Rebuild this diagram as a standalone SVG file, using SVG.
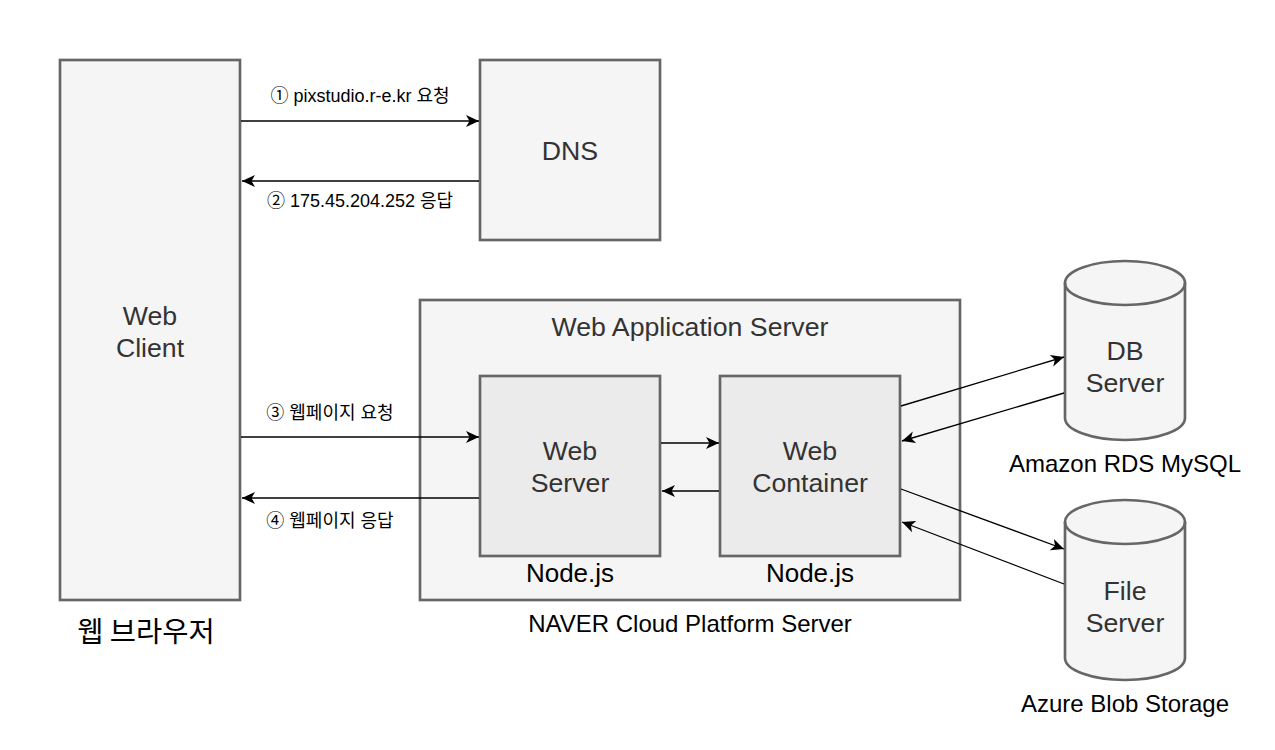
<svg xmlns="http://www.w3.org/2000/svg" width="1275" height="750" viewBox="0 0 1275 750">
<style>
  .box{fill:#f5f5f5;stroke:#666666;stroke-width:2.67}
  .inner{fill:#ebebeb;stroke:#666666;stroke-width:2.67}
  .t{font-family:"Liberation Sans","Noto Sans CJK KR",sans-serif;text-anchor:middle}
  .big{font-size:26.7px;fill:#333333}
  .mid{font-size:24px;fill:#000000}
  .sm{font-size:18px;fill:#000000}
  .kr{font-family:"Noto Sans CJK KR","Liberation Sans",sans-serif;font-size:28.5px;fill:#000000;text-anchor:middle}
  .edge{stroke:#000000;stroke-width:1.33;fill:none}
</style>
<defs>
  <marker id="ah" markerUnits="userSpaceOnUse" markerWidth="16" markerHeight="16" viewBox="-14 -8 16 16" refX="0" refY="0" orient="auto">
    <path d="M0,0 L-13,-6 L-9.5,0 L-13,6 Z" fill="#000000"/>
  </marker>
</defs>
<rect width="1275" height="750" fill="#ffffff"/>

<g id="web-client">
  <rect class="box" x="60" y="60" width="180" height="540"/>
  <text class="t big" x="150" y="325">Web</text>
  <text class="t big" x="150" y="357">Client</text>
  <text class="kr" x="146" y="642">웹 브라우저</text>
</g>

<g id="dns">
  <rect class="box" x="480" y="60" width="180" height="180"/>
  <text class="t big" x="570" y="160">DNS</text>
</g>

<g id="was">
  <rect class="box" x="420" y="300" width="540" height="300"/>
  <text class="t big" x="690" y="336">Web Application Server</text>
  <text class="t mid" x="690" y="632">NAVER Cloud Platform Server</text>
</g>

<g id="web-server">
  <rect class="inner" x="480" y="376" width="180" height="180"/>
  <text class="t big" x="570" y="460">Web</text>
  <text class="t big" x="570" y="492">Server</text>
  <text class="t mid" x="570" y="582" style="font-size:26px">Node.js</text>
</g>

<g id="web-container">
  <rect class="inner" x="720" y="376" width="180" height="180"/>
  <text class="t big" x="810" y="460">Web</text>
  <text class="t big" x="810" y="492">Container</text>
  <text class="t mid" x="810" y="582" style="font-size:26px">Node.js</text>
</g>

<g id="db-server">
  <path class="box" d="M1065,283 A60,22 0 0 1 1185,283 L1185,418 A60,22 0 0 1 1065,418 Z"/>
  <path class="box" style="fill:none" d="M1065,283 A60,22 0 0 0 1185,283"/>
  <text class="t big" x="1125" y="360">DB</text>
  <text class="t big" x="1125" y="392">Server</text>
  <text class="t mid" x="1125" y="472">Amazon RDS MySQL</text>
</g>

<g id="file-server">
  <path class="box" d="M1065,522 A60,22 0 0 1 1185,522 L1185,658 A60,22 0 0 1 1065,658 Z"/>
  <path class="box" style="fill:none" d="M1065,522 A60,22 0 0 0 1185,522"/>
  <text class="t big" x="1125" y="600">File</text>
  <text class="t big" x="1125" y="632">Server</text>
  <text class="t mid" x="1125" y="712">Azure Blob Storage</text>
</g>

<g id="connectors">
  <line class="edge" x1="241" y1="121" x2="479" y2="121" marker-end="url(#ah)"/>
  <text class="t sm" x="360" y="102">① pixstudio.r-e.kr 요청</text>
  <line class="edge" x1="479" y1="181" x2="242" y2="181" marker-end="url(#ah)"/>
  <text class="t sm" x="360" y="207">② 175.45.204.252 응답</text>
  <line class="edge" x1="241" y1="437" x2="479" y2="437" marker-end="url(#ah)"/>
  <text class="t sm" x="330" y="419">③ 웹페이지 요청</text>
  <line class="edge" x1="479" y1="498" x2="242" y2="498" marker-end="url(#ah)"/>
  <text class="t sm" x="330" y="527">④ 웹페이지 응답</text>
  <line class="edge" x1="661" y1="443" x2="719" y2="443" marker-end="url(#ah)"/>
  <line class="edge" x1="719" y1="491" x2="662" y2="491" marker-end="url(#ah)"/>
  <line class="edge" x1="901" y1="406" x2="1064" y2="357" marker-end="url(#ah)"/>
  <line class="edge" x1="1064" y1="393" x2="902" y2="441" marker-end="url(#ah)"/>
  <line class="edge" x1="901" y1="489" x2="1064" y2="549" marker-end="url(#ah)"/>
  <line class="edge" x1="1064" y1="584" x2="902" y2="522" marker-end="url(#ah)"/>
</g>
</svg>
